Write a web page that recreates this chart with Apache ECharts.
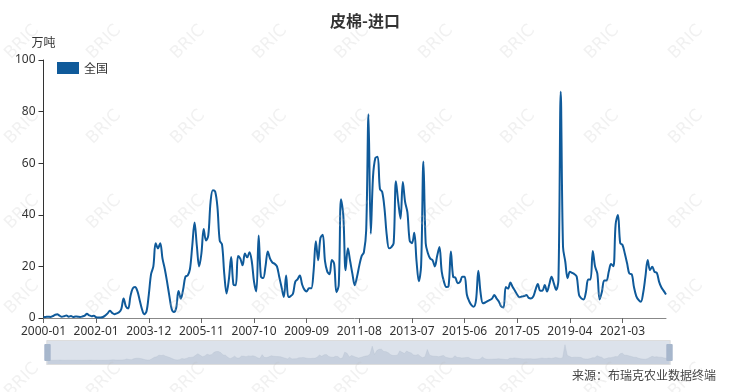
<!DOCTYPE html>
<html>
<head>
<meta charset="utf-8">
<script src="https://cdn.jsdelivr.net/npm/echarts@6/dist/echarts.min.js"></script>
<style>html,body{margin:0;padding:0;background:#fff;}#c{width:730px;height:392px;}</style>
</head>
<body>
<div id="c"></div>
<script>
// ---- data ----
var chartTitle = '皮棉-进口';
var unitName = '万吨';
var seriesName = '全国';
var sourceText = '来源：布瑞克农业数据终端';
var startYear = 2000, endYear = 2022, endMonth = 10;
var skippedMonth = '2001-02';
var values = [
  0.3,0.4,0.5,0.4,0.7,1.2,1.5,0.9,0.5,0.7,
  1.0,0.5,0.8,0.4,0.6,0.5,0.4,0.6,0.9,1.6,
  1.0,0.7,0.9,0.3,0.2,0.2,0.4,1.0,1.8,2.8,
  2.0,1.5,1.8,2.2,3.5,7.6,4.5,3.7,8.5,11.5,
  12,10.5,7,3.5,1.5,2.5,9,17,20,29,
  27,29,23,19,14,8.5,3.5,2.3,4,10.5,
  7.5,11,16,16.5,19,28,37,28,20,25,
  34.5,30,32,45,49.5,49,43,30,28.5,17,
  9.5,15,23.6,13,12.7,24,23,20.4,25,23.5,
  25.5,22,14,10.3,32,16,15.5,20,25.8,23,
  21.5,21,20,16,12,8.1,16.5,8.1,8.5,9.4,
  14,15,16.5,13,11,10.3,11.5,11.5,18,29.7,
  22.4,31,32.3,22,18,17,22.5,21,10,12.7,
  46,39.8,18.5,27,22,17,12.7,16,20.4,24,
  25.5,34,79,32.7,55,62,62.5,50,48.8,42.4,
  32,27,27.5,29,53,45,38.5,52.7,45,41,
  30,29,33,22,14.2,20.4,60.7,29,25,23,
  22.4,20,24,27.5,18,14,12,12.4,25.8,16,
  15.6,13.5,14,16,16,9,6.5,5,4.4,7,
  18.3,9.6,5.7,6,6.5,7,7.5,8.9,7.5,6.3,
  4.5,4.1,12,11.4,13.8,12,10.6,9,8,8.3,
  8.5,8.9,7.8,7.6,8.3,11,13.2,10.6,10.6,12.8,
  10.3,13,16,13.4,10.9,14.7,87.7,27.6,21.8,15.4,
  17.9,17.5,17,16,8.9,7.6,7.2,10,14.9,14.9,
  26,20,17.2,7.2,10.2,14.5,14.5,18,20.9,20.1,
  36.4,39.9,29,28.3,25,21.2,17.2,17,12,8.5,
  7,6.3,9.6,16,22.5,18.6,19.9,17.9,17.5,14,
  11.8,10.5,9.1
];

// month categories
var categories = [];
for (var y = startYear; y <= endYear; y++) {
  for (var m = 1; m <= 12; m++) {
    if (y === endYear && m > endMonth) break;
    var s = y + '-' + (m < 10 ? '0' + m : m);
    if (s === skippedMonth) continue;
    categories.push(s);
  }
}

// watermark graphics
var wm = [];
var wmX = [22, 104, 188, 270, 352, 436, 518, 602, 686];
var wmY = [42, 127, 212, 297, 380];
wmY.forEach(function (yy) {
  wmX.forEach(function (xx) {
    wm.push({
      type: 'text', x: xx, y: yy, rotation: Math.PI / 4, z: 100, silent: true,
      style: { text: 'BRIC', fill: 'rgba(190,190,190,0.22)', font: '17px "DejaVu Sans", sans-serif', textAlign: 'center', textVerticalAlign: 'middle' }
    });
  });
});
wm.push({
  type: 'text', right: 14, top: 369, silent: true,
  style: { text: sourceText, fill: '#444', font: '12px "Noto Sans CJK SC", sans-serif' }
});

var chart = echarts.init(document.getElementById('c'), null, { renderer: 'canvas' });
chart.setOption({
  animation: false,
  backgroundColor: '#fff',
  color: ['#0f5a9a'],
  title: {
    text: chartTitle, left: 'center', top: 8,
    textStyle: { fontSize: 16, fontWeight: 'bold', color: '#333', fontFamily: '"Noto Sans CJK SC", sans-serif' }
  },
  legend: {
    data: [seriesName], left: 52, top: 57, icon: 'rect', itemWidth: 22, itemHeight: 12, itemGap: 6,
    textStyle: { fontSize: 12, color: '#333', fontFamily: '"Noto Sans CJK SC", sans-serif' }
  },
  grid: { left: 43.5, right: 64, top: 60, bottom: 74 },
  xAxis: {
    type: 'category', data: categories, boundaryGap: false,
    axisLine: { lineStyle: { color: '#888' } },
    axisTick: { interval: 22, lineStyle: { color: '#666' } },
    axisLabel: { interval: 22, color: '#333', fontSize: 12, fontFamily: '"Noto Sans", sans-serif' }
  },
  yAxis: {
    type: 'value', min: 0, max: 100, interval: 20,
    name: unitName, nameGap: 12, nameTextStyle: { color: '#333', fontSize: 12, align: 'center', fontFamily: '"Noto Sans CJK SC", sans-serif' },
    axisLine: { show: true, lineStyle: { color: '#333' } },
    axisTick: { show: true },
    splitLine: { show: false },
    axisLabel: { color: '#333', fontSize: 12, fontFamily: '"Noto Sans", sans-serif' }
  },
  dataZoom: [{
    type: 'slider', xAxisIndex: 0, start: 0, end: 100,
    left: 44, right: 62, top: 340, height: 25,
    showDetail: false, brushSelect: false, moveHandleSize: 0,
    backgroundColor: 'rgba(47,69,84,0)',
    borderColor: '#ddd',
    fillerColor: 'rgba(167,183,204,0.4)',
    handleIcon: 'path://M0,0 L10,0 L10,30 L0,30 Z M2,11 L8,11 L8,13 L2,13 Z M2,17 L8,17 L8,19 L2,19 Z',
    handleSize: '64%',
    handleStyle: { color: '#a7b7cc', borderColor: '#a7b7cc' },
    dataBackground: {
      lineStyle: { color: '#b5bfcc', width: 0.5, opacity: 0.6 },
      areaStyle: { color: '#c6ceda', opacity: 0.6 }
    },
    selectedDataBackground: {
      lineStyle: { color: '#b5bfcc', width: 0.5, opacity: 0.6 },
      areaStyle: { color: '#c6ceda', opacity: 0.6 }
    }
  }],
  series: [{
    name: seriesName, type: 'line', data: values, showSymbol: false, smooth: 0.35,
    lineStyle: { width: 2, color: '#0f5a9a' }
  }],
  graphic: wm
});
</script>
</body>
</html>
